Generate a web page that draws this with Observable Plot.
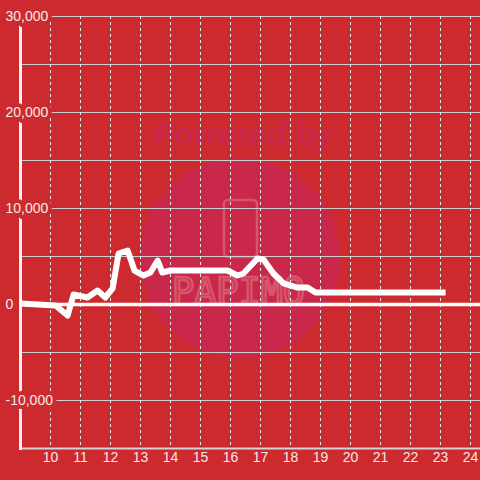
<!DOCTYPE html>
<html>
<head>
<meta charset="utf-8">
<script src="https://cdn.jsdelivr.net/npm/d3@7"></script>
<script src="https://cdn.jsdelivr.net/npm/@observablehq/plot@0.6"></script>
<style>
  html, body { margin: 0; padding: 0; background: #cc2a2f; }
  #wrap { position: relative; width: 480px; height: 480px; background: #cc2a2f; overflow: hidden; }
  #wrap > svg { position: absolute; left: 0; top: 0; }
</style>
</head>
<body>
<div id="wrap">
  <svg id="wm" width="480" height="480" xmlns="http://www.w3.org/2000/svg">
    <circle cx="240" cy="258" r="100" fill="#c9284a"/>
    <text x="243" y="145" text-anchor="middle" font-family="Liberation Sans" font-weight="bold" font-style="italic" font-size="32" fill="#c9284a">Powered by</text>
    <rect x="224" y="200" width="33" height="57" rx="4" fill="none" stroke="#d8566c" stroke-width="2.5"/>
    <text x="172" y="304" textLength="133" lengthAdjust="spacingAndGlyphs" font-family="DejaVu Sans Mono" font-size="38" fill="none" stroke="#d8566c" stroke-width="2.5">PAPIMO</text>
  </svg>
</div>
<script>
// Data (hour of day vs value)
const hours  = [9.0, 10.17, 10.57, 10.77, 11.23, 11.57, 11.83, 12.07, 12.27, 12.57, 12.8, 13.1, 13.33, 13.57, 13.73, 14.0, 15.9, 16.23, 16.43, 16.9, 17.1, 17.43, 17.77, 18.23, 18.57, 18.83, 23.17];
const values = [100, -100, -1150, 1040, 730, 1460, 730, 1670, 5310, 5625, 3540, 3020, 3330, 4580, 3330, 3540, 3540, 3020, 3230, 4790, 4690, 3230, 2190, 1770, 1770, 1250, 1250];

const xTicks = [10, 11, 12, 13, 14, 15, 16, 17, 18, 19, 20, 21, 22, 23, 24];
const yLabelTicks = [30000, 20000, 10000, 0, -10000];
const yGridTicks = [30000, 25000, 20000, 15000, 10000, 5000, -5000, -10000];

const data = hours.map((h, i) => ({hour: h, value: values[i]}));

const bg = "#cc2a2f";
const labelColor = "#f5e8e8";

const chart = Plot.plot({
  width: 480,
  height: 480,
  marginLeft: 20,
  marginRight: 0,
  marginTop: 16,
  marginBottom: 32,
  style: {background: "transparent", fontFamily: "Liberation Sans, Arial, sans-serif", fontSize: "14px"},
  x: {domain: [9, 24.3333], axis: null},
  y: {domain: [-15000, 30000], axis: null},
  marks: [
    Plot.ruleY(yGridTicks, {stroke: "#cfcfcf", strokeWidth: 1}),
    Plot.ruleX(xTicks, {stroke: "#ececec", strokeWidth: 1, strokeDasharray: "3,3"}),
    Plot.ruleY([-15000], {stroke: "#d4d4d4", strokeWidth: 2}),
    Plot.ruleY([0], {stroke: "#ffffff", strokeWidth: 3.5}),
    Plot.ruleX([9], {stroke: "#f2f2f2", strokeWidth: 3, insetBottom: -2}),
    Plot.line(data, {x: "hour", y: "value", stroke: "#ffffff", strokeWidth: 6, strokeLinejoin: "round", strokeLinecap: "butt"}),
    Plot.text(yLabelTicks, {
      y: d => d,
      text: d => d3.format(",")(d).replace("−", "-"),
      frameAnchor: "left",
      dx: -15,
      textAnchor: "start",
      fill: labelColor,
      stroke: bg,
      strokeWidth: 8,
      fontSize: 14
    }),
    Plot.text(xTicks, {
      x: d => d,
      text: d => String(d),
      frameAnchor: "bottom",
      dy: 13,
      fill: labelColor,
      fontSize: 14
    })
  ]
});
document.getElementById("wrap").appendChild(chart);
</script>
</body>
</html>
